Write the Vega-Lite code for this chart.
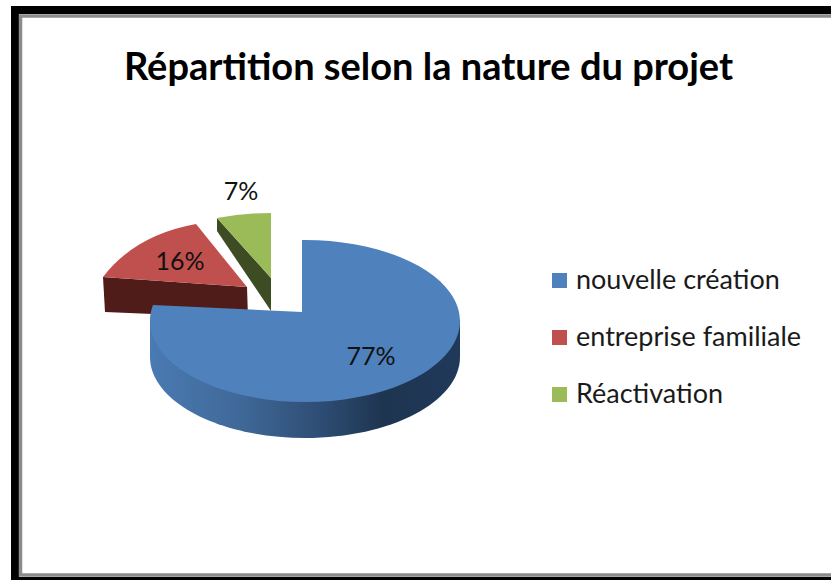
{
 "$schema":"https://vega.github.io/schema/vega-lite/v6.json",
 "width":831,"height":580,"padding":0,"autosize":{"type":"none"},
 "background":"white",
 "config":{"view":{"stroke":null},"font":"Lato"},
 "title":{"text":"Répartition selon la nature du projet","anchor":"middle","frame":"group","dx":13,"offset":-118,"baseline":"alphabetic","font":"Lato","fontSize":38,"fontWeight":"bold","color":"#000000"},
 "data":{"values":[
  {"projet":"nouvelle création","part":0.77},
  {"projet":"entreprise familiale","part":0.16},
  {"projet":"Réactivation","part":0.07}
 ]},
 "layer":[
  {"data":{"values":[{"cadre":"extérieur"}]},
   "mark":{"type":"rect","fill":null,"stroke":"#000000","strokeWidth":8},
   "encoding":{
    "x":{"datum":0,"type":"quantitative","axis":null,"scale":{"domain":[0,1],"range":[15,850]}},
    "x2":{"datum":1},
    "y":{"datum":0,"type":"quantitative","axis":null,"scale":{"domain":[0,1],"range":[10,581]}},
    "y2":{"datum":1}}},
  {"data":{"values":[{"cadre":"intérieur"}]},
   "mark":{"type":"rect","fill":null,"stroke":"#8c8c8c","strokeWidth":3.5},
   "encoding":{
    "x":{"datum":0,"type":"quantitative","axis":null,"scale":{"domain":[0,1],"range":[20.5,850]}},
    "x2":{"datum":1},
    "y":{"datum":0,"type":"quantitative","axis":null,"scale":{"domain":[0,1],"range":[16,575]}},
    "y2":{"datum":1}}},
  {"mark":{"type":"square","filled":true,"opacity":1,"size":0},
   "encoding":{
    "x":{"field":"part","type":"quantitative","axis":null,"scale":{"domain":[0.07,0.16,0.77],"range":[271,247,302]}},
    "y":{"field":"part","type":"quantitative","axis":null,"scale":{"domain":[0.07,0.16,0.77],"range":[278,287,312]}},
    "color":{"field":"projet","scale":{"domain":["nouvelle création","entreprise familiale","Réactivation"],"range":["#4f81bd","#c0504d","#9bbb59"]},
     "legend":{"title":null,"orient":"none","legendX":546,"legendY":267,"symbolType":"square","symbolSize":225,"symbolStrokeWidth":0,"symbolOpacity":1,"labelFont":"Lato","labelFontSize":27,"labelColor":"#1a1a1a","labelOffset":3,"rowPadding":29,"labelLimit":300,"padding":0}}}},
  {"transform":[{"filter":"datum.part < 0.5"}],
   "mark":{"type":"point","filled":true,"opacity":1,"size":4,"strokeWidth":0},
   "encoding":{
    "x":{"field":"part","type":"quantitative","axis":null,"scale":{"domain":[0.07,0.16,0.77],"range":[271,247,302]}},
    "y":{"field":"part","type":"quantitative","axis":null,"scale":{"domain":[0.07,0.16,0.77],"range":[278,287,312]}},
    "shape":{"field":"projet","legend":null,"scale":{"domain":["entreprise familiale","Réactivation"],"range":["M-144 -10L0 0L1 31L-142 25Z","M-54 -60L0 0L0 33L-54 -47Z"]}},
    "color":{"field":"projet","legend":null,"scale":{"domain":["entreprise familiale","Réactivation"],"range":["#4f1c1a","#3e4c24"]}}}},
  {"transform":[{"filter":"datum.part > 0.5"}],
   "mark":{"type":"point","filled":true,"opacity":1,"size":4,"strokeWidth":0,
    "fill":{"gradient":"linear","x1":0,"y1":0,"x2":1,"y2":0,"stops":[{"offset":0,"color":"#4a7ab3"},{"offset":0.3,"color":"#3f6897"},{"offset":0.55,"color":"#2e4d74"},{"offset":0.75,"color":"#1e3550"},{"offset":1,"color":"#20395a"}]}},
   "encoding":{
    "x":{"field":"part","type":"quantitative","axis":null,"scale":{"domain":[0.07,0.16,0.77],"range":[271,247,302]}},
    "y":{"field":"part","type":"quantitative","axis":null,"scale":{"domain":[0.07,0.16,0.77],"range":[278,287,312]}},
    "shape":{"field":"projet","legend":null,"scale":{"domain":["nouvelle création"],"range":["M-152 8L158 8L158 45A155 81 0 0 1 -152 45Z"]}}}},
  {"mark":{"type":"point","filled":true,"opacity":1,"size":4,"strokeWidth":0},
   "encoding":{
    "x":{"field":"part","type":"quantitative","axis":null,"scale":{"domain":[0.07,0.16,0.77],"range":[271,247,302]}},
    "y":{"field":"part","type":"quantitative","axis":null,"scale":{"domain":[0.07,0.16,0.77],"range":[278,287,312]}},
    "shape":{"field":"projet","legend":null,"scale":{"domain":["nouvelle création","entreprise familiale","Réactivation"],"range":["M0 0L0 -72A155 81 0 1 1 -149 -7Z","M0 0L-144 -10Q-112 -52 -51 -63Z","M0 0L-54 -60Q-28 -65 0 -65Z"]}},
    "color":{"field":"projet","legend":null,"scale":{"domain":["nouvelle création","entreprise familiale","Réactivation"],"range":["#4f81bd","#c0504d","#9bbb59"]}}}},
  {"mark":{"type":"text","font":"Lato","fontSize":25,"color":"#111111","align":"center","baseline":"middle"},
   "encoding":{
    "x":{"field":"part","type":"quantitative","axis":null,"scale":{"domain":[0.07,0.16,0.77],"range":[241,180,371]}},
    "y":{"field":"part","type":"quantitative","axis":null,"scale":{"domain":[0.07,0.16,0.77],"range":[192,262,357]}},
    "text":{"field":"part","type":"quantitative","format":".0%"}}}
 ],
 "resolve":{"scale":{"x":"independent","y":"independent","shape":"independent","color":"independent"}}
}
